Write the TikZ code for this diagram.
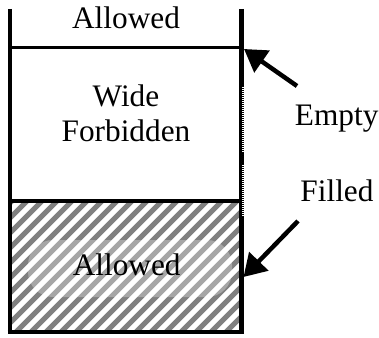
\documentclass[tikz,border=0pt]{standalone}
\usepackage{fontspec}
\setmainfont{Liberation Serif}
\usetikzlibrary{arrows.meta}

\tikzset{
  wall/.style={
    line width=4pt
  },
  label/.style={
    font=\fontsize{31.3}{35}\selectfont,
    inner sep=0pt,
    anchor=base
  },
  pointer/.style={
    line width=4.5pt,
    -{Triangle[length=22pt,width=26pt]}
  }
}

\begin{document}
\begin{tikzpicture}[x=1pt,y=-1pt]
  \useasboundingbox (0,0) rectangle (379,337);

  % filled band
  \begin{scope}
    \clip (10,201) rectangle (241,332);
    \foreach \s in {-135,-120,...,245}
      \draw[gray, line width=5pt] (\s,333) -- (\s+133,200);
    \fill[white, fill opacity=0.3, rounded corners=25pt] (28,240) rectangle (232,297);
  \end{scope}

  % walls and levels
  \draw[wall] (9.5,9) -- (9.5,334);
  \draw[wall, line width=5pt] (241,9) -- (241,334);
  \draw[white, line width=2pt, dash pattern=on 1pt off 1pt] (242.5,87) -- (242.5,153);
  \draw[white, line width=2pt, dash pattern=on 1pt off 1pt] (242.5,165) -- (242.5,217);
  \draw[line width=3pt] (9.5,47.5) -- (241,47.5);
  \draw[wall] (9.5,201) -- (241,201);
  \draw[wall] (7.5,332) -- (243.5,332);

  \node[label] (upper) at (126,28.3) {Allowed};
  \node[label, align=center, anchor=center] (gap) at (126,113.5) {Wide\\Forbidden};
  \node[label] (lower) at (126.7,275) {Allowed};

  \node[label] (empty) at (336.7,125) {Empty};
  \node[label] (filled) at (337,201.7) {Filled};

  \coordinate (e1) at (297,86);
  \coordinate (e2) at (244,49);
  \coordinate (f1) at (298,221);
  \coordinate (f2) at (243.5,277);
  \draw[pointer] (e1) -- (e2);
  \draw[pointer] (f1) -- (f2);
\end{tikzpicture}
\end{document}
